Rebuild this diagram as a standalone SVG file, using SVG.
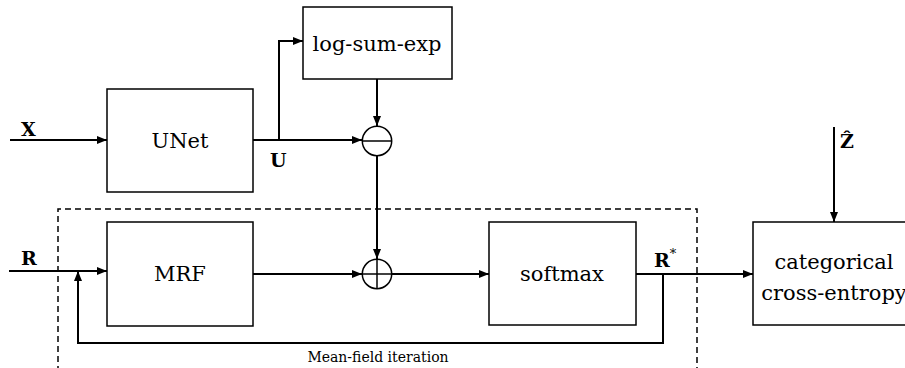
<svg xmlns="http://www.w3.org/2000/svg" width="905" height="368" viewBox="0 0 905 368">
<style>
text{font-family:'DejaVu Serif','Liberation Serif',serif}
.box{fill:#fff;stroke:#000;stroke-width:1.5}
.ln{fill:none;stroke:#000;stroke-width:2}
.lbl{font-size:21px;text-anchor:middle}
.var{font-size:19px;font-weight:bold}
.small{font-size:14px;text-anchor:middle}
</style>
<defs>
<marker id="ah" markerWidth="10" markerHeight="8" refX="10" refY="4" orient="auto" markerUnits="userSpaceOnUse">
<path d="M0,0 L10,4 L0,8 Z" fill="#000"/>
</marker>
</defs>
<rect width="905" height="368" fill="#fff"/>
<g id="iteration-frame">
<path d="M58,372 L58,209 L697,209 L697,372" fill="none" stroke="#000" stroke-width="1.5" stroke-dasharray="6,4"/>
<text class="small" x="378" y="362">Mean-field iteration</text>
</g>
<g id="connectors">
<line class="ln" x1="10" y1="140" x2="107" y2="140" marker-end="url(#ah)"/>
<line class="ln" x1="253" y1="140" x2="362" y2="140" marker-end="url(#ah)"/>
<polyline class="ln" points="279,140 279,41 303,41" marker-end="url(#ah)"/>
<line class="ln" x1="377" y1="79" x2="377" y2="126" marker-end="url(#ah)"/>
<line class="ln" x1="377" y1="156" x2="377" y2="259" marker-end="url(#ah)"/>
<line class="ln" x1="9" y1="271" x2="107" y2="271" marker-end="url(#ah)"/>
<line class="ln" x1="253" y1="274" x2="362" y2="274" marker-end="url(#ah)"/>
<line class="ln" x1="392" y1="274" x2="489" y2="274" marker-end="url(#ah)"/>
<line class="ln" x1="636" y1="274" x2="753" y2="274" marker-end="url(#ah)"/>
<polyline class="ln" points="663,274 663,343 78,343 78,271" marker-end="url(#ah)"/>
<line class="ln" x1="834" y1="127" x2="834" y2="222" marker-end="url(#ah)"/>
</g>
<g id="unet"><rect class="box" x="107" y="89" width="146" height="103"/><text class="lbl" x="180" y="148">UNet</text></g>
<g id="logsumexp"><rect class="box" x="303" y="7" width="149" height="72"/><text class="lbl" x="377" y="51">log-sum-exp</text></g>
<g id="minus"><circle class="box" cx="377" cy="141" r="14.7"/><line stroke="#000" stroke-width="1.5" x1="362.3" y1="141" x2="391.7" y2="141"/></g>
<g id="plus"><circle class="box" cx="377" cy="274" r="14.7"/><line stroke="#000" stroke-width="1.5" x1="362.3" y1="274" x2="391.7" y2="274"/><line stroke="#000" stroke-width="1.5" x1="377" y1="259.3" x2="377" y2="288.7"/></g>
<g id="mrf"><rect class="box" x="107" y="222" width="146" height="104"/><text class="lbl" x="180" y="281">MRF</text></g>
<g id="softmax"><rect class="box" x="489" y="222" width="147" height="103"/><text class="lbl" x="562" y="281">softmax</text></g>
<g id="crossentropy"><rect class="box" x="753" y="222" width="160" height="103"/><text class="lbl" x="834" y="269">categorical</text><text class="lbl" x="834" y="300">cross-entropy</text></g>
<g id="labels">
<text class="var" x="21" y="136">X</text>
<text class="var" x="270" y="167">U</text>
<text class="var" x="21" y="265">R</text>
<text class="var" x="654" y="267">R<tspan font-size="13" font-weight="normal" dy="-9">*</tspan></text>
<text class="var" x="840" y="148">Ẑ</text>
</g>
</svg>
